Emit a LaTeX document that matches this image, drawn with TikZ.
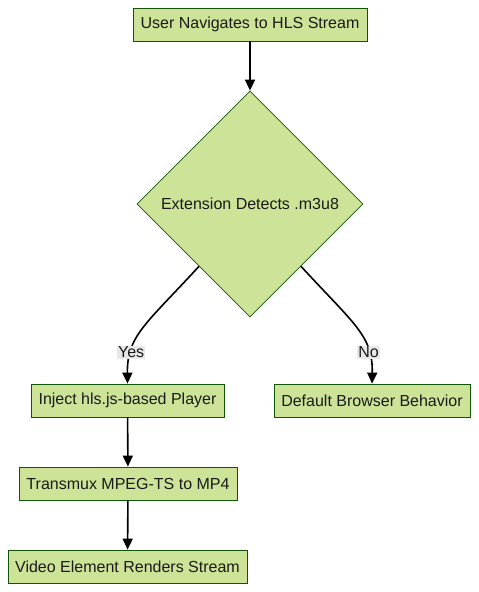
\documentclass[tikz,border=0pt]{standalone}
\usepackage{fontspec}
\setmainfont{Liberation Sans}
\usetikzlibrary{shapes.geometric,arrows.meta,calc}
\definecolor{nfill}{HTML}{CDE498}
\definecolor{nstroke}{HTML}{13540C}
\definecolor{lblbg}{HTML}{E8E8E8}
\definecolor{txt}{HTML}{1A1A1A}
\tikzset{
  box/.style={draw=nstroke, fill=nfill, line width=0.8pt, minimum height=33pt, inner sep=0pt, text=txt, font=\fontsize{16}{19}\selectfont},
  dia/.style={diamond, draw=nstroke, fill=nfill, line width=0.8pt, minimum width=226pt, minimum height=226pt, inner sep=0pt, text=txt, font=\fontsize{16}{19}\selectfont},
  edge/.style={line width=1.6pt, -{Triangle[length=11pt,width=10pt]}},
  lbl/.style={fill=lblbg, inner sep=1pt, text=txt, font=\fontsize{16}{19}\selectfont}
}
\begin{document}
\begin{tikzpicture}[x=1pt,y=-1pt]
\useasboundingbox (0,0) rectangle (479,592);
\node[box, minimum width=234pt] (a) at (250,24.5) {User Navigates to HLS Stream};
\node[dia] (d) at (250,204) {Extension Detects .m3u8};
\node[box, minimum width=193pt] (inj) at (127.5,400.5) {Inject hls.js-based Player};
\node[box, minimum width=196pt] (def) at (372,400.5) {Default Browser Behavior};
\node[box, minimum width=218pt] (tm) at (128,483.5) {Transmux MPEG-TS to MP4};
\node[box, minimum width=239pt] (vid) at (127.5,566.5) {Video Element Renders Stream};
\coordinate (dl) at ($(d.west)!0.55!(d.south)$);
\coordinate (dr) at ($(d.east)!0.55!(d.south)$);
\draw[edge] (a) -- (d.north);
\draw[edge] (dl) .. controls (145,325) and (127,336) .. node[lbl, pos=0.74] (yes) {Yes} (inj.north);
\draw[edge] (dr) .. controls (355,325) and (373,336) .. node[lbl, pos=0.74] (no) {No} (def.north);
\draw[edge] (inj) -- (tm);
\draw[edge] (tm) -- (vid);
\end{tikzpicture}
\end{document}
